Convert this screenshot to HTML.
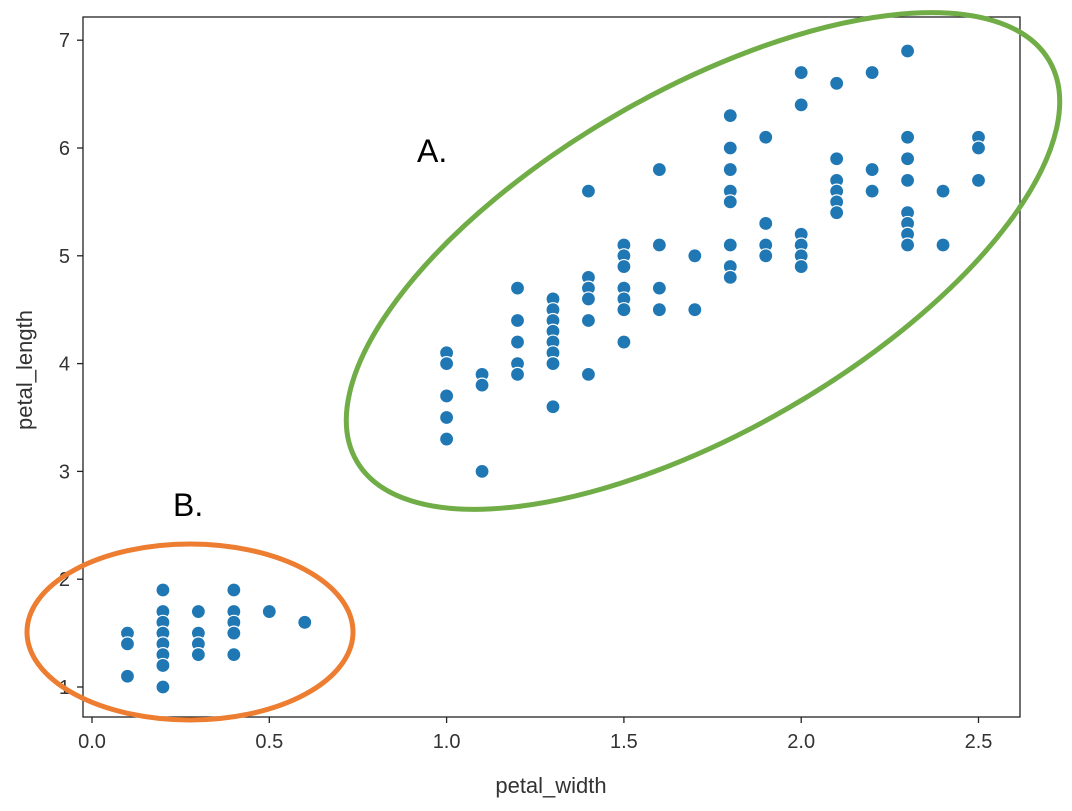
<!DOCTYPE html>
<html><head><meta charset="utf-8"><style>
html,body{margin:0;padding:0;background:#fff;}
svg{display:block;font-family:"Liberation Sans","DejaVu Sans",sans-serif;}
</style></head><body>
<svg id="chart" width="1072" height="811" viewBox="0 0 1072 811">
<rect x="83" y="17" width="937" height="700" fill="#fff" stroke="#222" stroke-width="1.3"/>
<g id="ticks"></g>
<g id="points"></g>
<text x="551" y="793" text-anchor="middle" font-size="22" fill="#333">petal_width</text>
<text transform="translate(32,370) rotate(-90)" text-anchor="middle" font-size="22" fill="#333">petal_length</text>
<ellipse cx="703" cy="261" rx="400" ry="170" transform="rotate(-30 703 261)" fill="none" stroke="#70ad47" stroke-width="5"/>
<ellipse cx="190" cy="632" rx="163" ry="88" fill="none" stroke="#ed7d31" stroke-width="5"/>
<text x="417" y="162" font-size="32" fill="#000">A.</text>
<text x="173" y="516" font-size="32" fill="#000">B.</text>
</svg>
<script>
const xTicks=[0.0,0.5,1.0,1.5,2.0,2.5];
const xTickLabels=["0.0","0.5","1.0","1.5","2.0","2.5"];
const yTicks=[1,2,3,4,5,6,7];
const yTickLabels=["1","2","3","4","5","6","7"];
const petalWidth=[0.1,0.1,0.1,0.2,0.2,0.2,0.2,0.2,0.2,0.2,0.2,0.3,0.3,0.3,0.3,0.4,0.4,0.4,0.4,0.4,0.5,0.6,
1.0,1.0,1.0,1.0,1.0,1.1,1.1,1.1,1.2,1.2,1.2,1.2,1.2,1.3,1.3,1.3,1.3,1.3,1.3,1.3,1.3,
1.4,1.4,1.4,1.4,1.4,1.4,1.5,1.5,1.5,1.5,1.5,1.5,1.5,1.6,1.6,1.6,1.6,1.7,1.7,
1.8,1.8,1.8,1.8,1.8,1.8,1.8,1.8,1.9,1.9,1.9,1.9,2.0,2.0,2.0,2.0,2.0,2.0,
2.1,2.1,2.1,2.1,2.1,2.1,2.2,2.2,2.2,2.3,2.3,2.3,2.3,2.3,2.3,2.3,2.3,2.4,2.4,2.5,2.5,2.5];
const petalLength=[1.5,1.4,1.1,1.9,1.7,1.6,1.5,1.4,1.3,1.2,1.0,1.7,1.5,1.4,1.3,1.9,1.7,1.6,1.5,1.3,1.7,1.6,
4.1,4.0,3.7,3.5,3.3,3.9,3.8,3.0,4.7,4.4,4.2,4.0,3.9,4.6,4.5,4.4,4.3,4.2,4.1,4.0,3.6,
5.6,4.8,4.7,4.6,4.4,3.9,5.1,5.0,4.9,4.7,4.6,4.5,4.2,5.8,5.1,4.7,4.5,5.0,4.5,
6.3,6.0,5.8,5.6,5.5,5.1,4.9,4.8,6.1,5.3,5.1,5.0,6.7,6.4,5.2,5.1,5.0,4.9,
6.6,5.9,5.7,5.6,5.5,5.4,6.7,5.8,5.6,6.9,6.1,5.9,5.7,5.4,5.3,5.2,5.1,5.6,5.1,6.1,6.0,5.7];
const X=v=>92+v*354.6;
const Y=v=>687-(v-1)*107.8;
const NS="http://www.w3.org/2000/svg";
const tg=document.getElementById('ticks'), pg=document.getElementById('points');
function mk(tag,attrs,parent){const e=document.createElementNS(NS,tag);for(const k in attrs)e.setAttribute(k,attrs[k]);parent.appendChild(e);return e;}
xTicks.forEach((t,i)=>{
  const l=mk('line',{x1:X(t),x2:X(t),y1:717,y2:723,stroke:'#222','stroke-width':1.3},tg);
  
  
  const s=mk('text',{x:X(t),y:748,'text-anchor':'middle','font-size':20,fill:'#333'},tg);
  s.textContent=xTickLabels[i];
  
  
});
yTicks.forEach((t,i)=>{
  const l=mk('line',{x1:77,x2:83,y1:Y(t),y2:Y(t),stroke:'#222','stroke-width':1.3},tg);
  
  
  const s=mk('text',{x:70,y:Y(t)+7,'text-anchor':'end','font-size':20,fill:'#333'},tg);
  s.textContent=yTickLabels[i];
  
  
});
petalWidth.forEach((w,i)=>{
  const c=mk('circle',{cx:X(w),cy:Y(petalLength[i]),r:7,fill:'#1f77b4',stroke:'#fff','stroke-width':1.2},pg);
  
  
});
</script>
</body></html>
